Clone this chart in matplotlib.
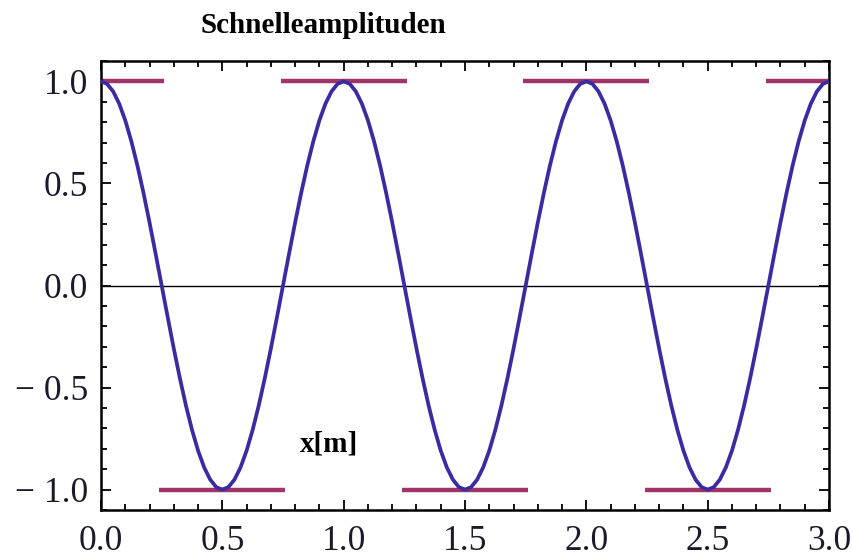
import numpy as np
import matplotlib
matplotlib.use("Agg")
import matplotlib.pyplot as plt
from matplotlib.ticker import MultipleLocator, FixedLocator

# Position along the string [m], sampled every 0.025 m
x_pos = np.linspace(0.0, 3.0, 121)

# Velocity amplitude (normalised) at each sample position
one_period = [
    1.000, 0.988, 0.951, 0.891, 0.809, 0.707, 0.588, 0.454, 0.309, 0.156,
    0.000, -0.156, -0.309, -0.454, -0.588, -0.707, -0.809, -0.891, -0.951, -0.988,
    -1.000, -0.988, -0.951, -0.891, -0.809, -0.707, -0.588, -0.454, -0.309, -0.156,
    0.000, 0.156, 0.309, 0.454, 0.588, 0.707, 0.809, 0.891, 0.951, 0.988,
]
velocity_amp = one_period * 3 + [1.000]

# Antinode markers: centre position, level and extent
antinode_x = [0.0, 0.5, 1.0, 1.5, 2.0, 2.5, 3.0]
antinode_level = [1.0, -1.0, 1.0, -1.0, 1.0, -1.0, 1.0]
antinode_half_width = 0.26

x_ticks = [0.0, 0.5, 1.0, 1.5, 2.0, 2.5, 3.0]
y_ticks = [-1.0, -0.5, 0.0, 0.5, 1.0]

serif = ["Liberation Serif", "DejaVu Serif"]
curve_color = "#3a2ca0"
marker_color = "#9e3468"

fig = plt.figure(figsize=(8.53, 5.58), dpi=100)
ax = fig.add_axes([0.1184, 0.086, 0.8535, 0.8047])

ax.axhline(0.0, color="black", lw=1.0, zorder=1)

for xc, lvl in zip(antinode_x, antinode_level):
    ax.plot([xc - antinode_half_width, xc + antinode_half_width], [lvl, lvl],
            color=marker_color, lw=3.2, solid_capstyle="butt", zorder=2)

ax.plot(x_pos, velocity_amp, color=curve_color, lw=2.7, zorder=3)

ax.set_xlim(0.0, 3.0)
ax.set_ylim(-1.1, 1.1)

ax.xaxis.set_major_locator(FixedLocator(x_ticks))
ax.yaxis.set_major_locator(FixedLocator(y_ticks))
ax.xaxis.set_minor_locator(MultipleLocator(0.1))
ax.yaxis.set_minor_locator(MultipleLocator(0.1))
ax.set_xticklabels([f"{v:.1f}" for v in x_ticks])
ax.set_yticklabels([f"{v:.1f}".replace("-", "\u2212 ") for v in y_ticks])

ax.tick_params(which="both", direction="in", top=True, right=True,
               color="black", width=1.3)
ax.tick_params(which="major", length=7, labelsize=25.5)
ax.tick_params(axis="x", which="major", pad=11)
ax.tick_params(axis="y", which="major", pad=9)
ax.tick_params(which="minor", length=4)
for lab in ax.get_xticklabels() + ax.get_yticklabels():
    lab.set_fontfamily(serif)
    lab.set_color("#1a1a2a")

for sp in ax.spines.values():
    sp.set_linewidth(1.8)
    sp.set_color("black")

fig.text(0.379, 0.955, "Schnelleamplituden", family=serif, fontweight="bold",
         fontsize=21, ha="center", va="center")
ax.text(0.94, -0.775, "x[m]", family=serif, fontweight="bold", fontsize=21,
        ha="center", va="center")

fig.savefig("out.png", dpi=100, facecolor="white")
